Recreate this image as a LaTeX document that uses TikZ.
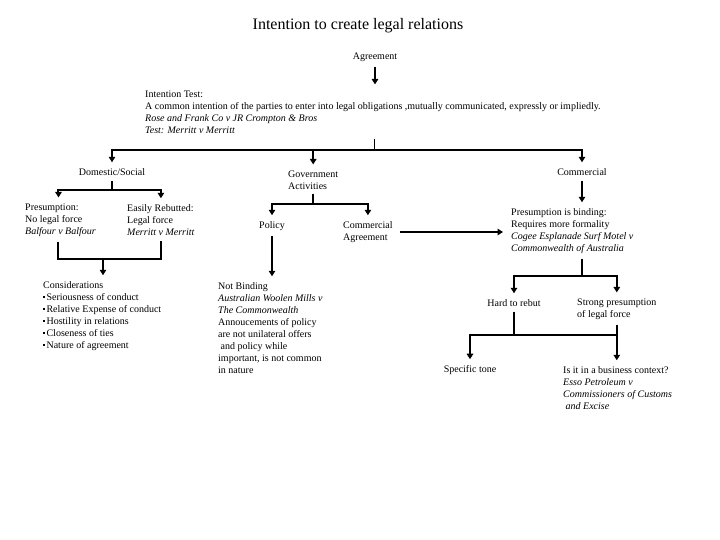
\documentclass[tikz,border=0pt]{standalone}
\usepackage{fontspec}
\setmainfont{Liberation Serif}
\usetikzlibrary{arrows.meta}
\newcommand{\dotmark}{\rule[2.6pt]{1.7pt}{1.7pt}\,}

\begin{document}
\begin{tikzpicture}[ x=1pt , y=-1pt ,
  every node/.style={inner sep=0pt, font=\fontsize{10}{12}\selectfont},
  txt/.style={align=left, anchor=west},
  link/.style={line width=2pt},
  arr/.style={link, shorten >=6pt, -{Triangle[length=5.5pt,width=6.5pt]}} ]
\useasboundingbox (0,0) rectangle (720,540);

\node (title) at (358,26) {\fontsize{16}{18}\selectfont Intention to create legal relations};
\node (agree) at (375,57) {Agreement};
\node [txt] (test) at (145,112) {Intention Test:\\
  A common intention of the parties to enter into legal obligations ,mutually communicated, expressly or impliedly.\\
  \textit{Rose and Frank Co v JR Crompton \& Bros}\\
  \textit{Test: Merritt v Merritt}};

\node (dom) at (112,172) {Domestic/Social};
\node [txt] (gov) at (288,180) {Government\\Activities};
\node (com) at (582,172) {Commercial};

\node [txt] (pres) at (25,220) {Presumption:\\No legal force\\\textit{Balfour v Balfour}};
\node [txt] (easy) at (127,220) {Easily Rebutted:\\Legal force\\\textit{Merritt v Merritt}};
\node [txt] (cons) at (43,316) {Considerations\\
  \dotmark Seriousness of conduct\\
  \dotmark Relative Expense of conduct\\
  \dotmark Hostility in relations\\
  \dotmark Closeness of ties\\
  \dotmark Nature of agreement};

\node (policy) at (272,226) {Policy};
\node [txt] (comagr) at (343,232) {Commercial\\Agreement};
\node [txt] (notb) at (218,328) {Not Binding\\
  \textit{Australian Woolen Mills v}\\
  \textit{The Commonwealth}\\
  Annoucements of policy\\
  are not unilateral offers\\
  \ and policy while\\
  important, is not common\\
  in nature};

\node [txt] (bind) at (511,231) {Presumption is binding:\\Requires more formality\\
  \textit{Cogee Esplanade Surf Motel v}\\\textit{Commonwealth of Australia}};
\node (hard) at (514,303) {Hard to rebut};
\node [txt] (strong) at (577,309) {Strong presumption\\of legal force};
\node (tone) at (470,370) {Specific tone};
\node [txt] (biz) at (563,388) {Is it in a business context?\\
  \textit{Esso Petroleum v}\\\textit{Commissioners of Customs}\\\textit{\ and Excise}};

% forks
\coordinate (bar) at (374,150);
\coordinate (dfork) at (112,190);
\coordinate (cfork) at (103,259);
\coordinate (gfork) at (313,204);
\coordinate (bfork) at (582,276);
\coordinate (hfork) at (514,335);

\draw [arr, shorten <=5pt] (agree.south) -- (agree.south |- test.north);
\draw [line width=0.8pt, shorten <=5pt] (bar |- test.south) -- (bar);
\draw [arr] (bar) -| (dom.north);
\draw [arr] (bar) -| (com.north);
\draw [arr] (gov.north |- bar) -- (gov.north);

\draw [link, shorten <=5pt] (dom.south) -- (dfork);
\draw [arr] (dfork) -| ([xshift=-2pt]pres.north);
\draw [arr] (dfork) -| (easy.north);
\draw [link, shorten <=5pt, shorten >=5pt] ([xshift=-2pt]pres.south) -- ([xshift=-2pt]pres.south |- cfork) -- (easy.south |- cfork) -- (easy.south);
\draw [arr] (cfork) -- (cfork |- cons.north);

\draw [link, shorten <=4pt] (gov.south -| gfork) -- (gfork);
\draw [arr] (gfork) -| (policy.north);
\draw [arr] (gfork) -| (comagr.north);
\draw [arr, shorten <=5pt] (policy.south) -- (policy.south |- notb.north);
\draw [arr, shorten <=7pt, shorten >=8pt] (comagr.east) -- (comagr.east -| bind.west);

\draw [arr, shorten <=5pt] (com.south) -- (com.south |- bind.north);
\draw [link, shorten <=5pt] (bfork |- bind.south) -- (bfork);
\draw [arr] (bfork) -| (hard.north);
\draw [arr] (bfork) -| (strong.north);
\draw [link, shorten <=5pt] (hard.south) -- (hfork);
\draw [link] (hfork) -- (strong.south |- hfork);
\draw [arr] (hfork) -| (tone.north);
\draw [arr, shorten <=5pt] (strong.south) -- (strong.south |- biz.north);
\end{tikzpicture}
\end{document}
